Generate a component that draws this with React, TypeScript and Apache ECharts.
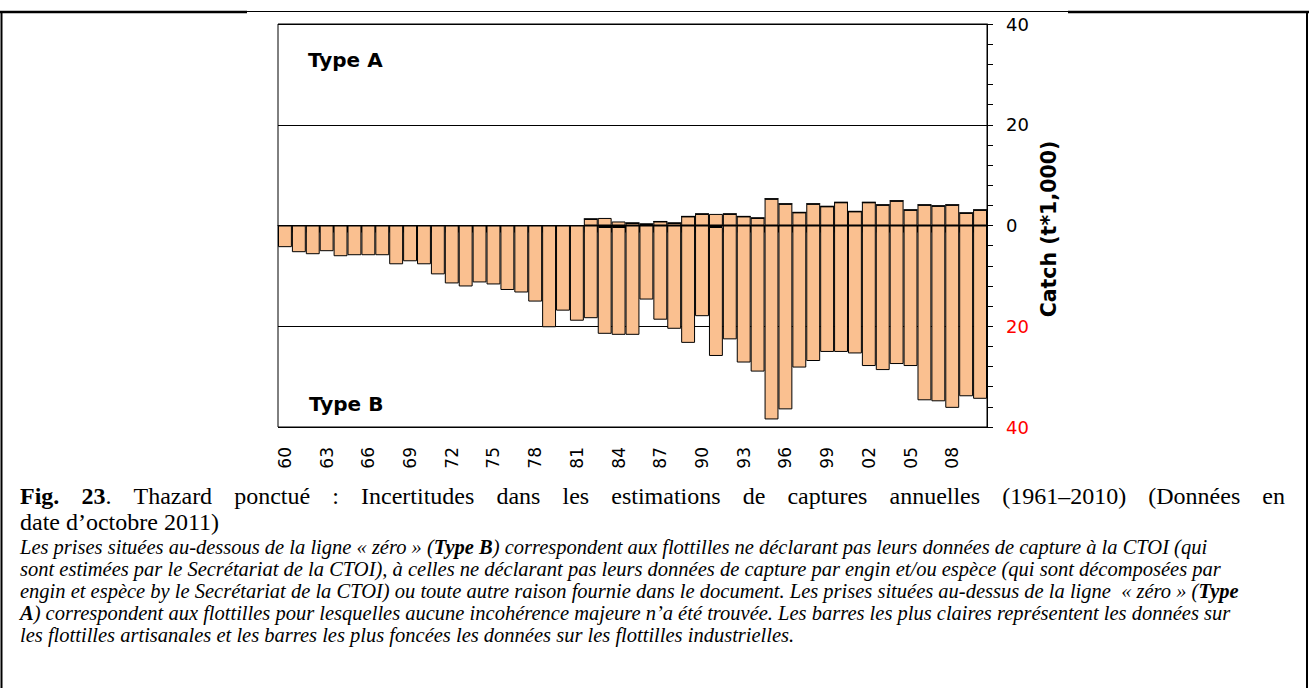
import React, { useEffect, useRef } from "react";
import * as echarts from "echarts";

const years = [
  "60","61","62","63","64","65","66","67","68","69",
  "70","71","72","73","74","75","76","77","78","79",
  "80","81","82","83","84","85","86","87","88","89",
  "90","91","92","93","94","95","96","97","98","99",
  "00","01","02","03","04","05","06","07","08","09","10",
];

// Type A (above zero) catches, t*1,000
const typeA = [
  0,0,0,0,0,0,0,0,0,0,
  0,0,0,0,0,0,0,0,0,0,
  0,0,1.3,1.5,0.8,0.5,0.3,0.8,0.5,1.8,
  2.3,2.3,2.3,1.8,1.5,5.3,4.3,2.6,4.3,3.8,
  4.6,2.8,4.6,4.1,4.9,3.1,4.1,3.9,4.1,2.5,3.1,
];

// Type B (below zero) catches, artisanal fleets, t*1,000
const typeBArtisanal = [
  4.3,5.3,5.7,5.1,6.1,5.9,5.9,5.9,7.7,7.1,
  7.7,9.7,11.5,12.1,11.3,11.7,12.8,13.3,15.1,20.2,
  16.9,18.9,18.4,21.2,21.4,21.7,14.7,18.7,20.5,23.3,
  18.0,25.6,22.6,27.2,29.0,38.5,36.5,28.2,26.9,25.1,
  25.1,25.4,27.9,28.7,27.5,27.9,34.7,34.9,36.2,33.9,34.4,
];

// Type B (below zero) catches, industrial fleets, t*1,000
const typeBIndustrial = [
  0,0,0,0,0,0,0,0,0,0,
  0,0,0,0,0,0,0,0,0,0,
  0,0,0,0.3,0.3,0,0,0,0,0,
  0,0.3,0,0,0,0,0,0,0,0,
  0,0,0,0,0,0,0,0,0,0,0,
];

const yTicks = [-40, -20, 0, 20, 40];

// caption title, first (justified) line as words; "*" marks bold parts
const titleWords = [
  ["*Fig."], ["*23", "."], ["Thazard"], ["ponctué"], [":"], ["Incertitudes"], ["dans"], ["les"],
  ["estimations"], ["de"], ["captures"], ["annuelles"], ["(1961–2010)"], ["(Données"], ["en"],
];
const titleLine2 = "date d’octobre 2011)";

const noteLines = [
  "{i|Les prises situées au-dessous de la ligne « zéro » (}{b|Type B}{i|) correspondent aux flottilles ne déclarant pas leurs données de capture à la CTOI (qui}",
  "{i|sont estimées par le Secrétariat de la CTOI), à celles ne déclarant pas leurs données de capture par engin et/ou espèce (qui sont décomposées par}",
  "{i|engin et espèce by le Secrétariat de la CTOI) ou toute autre raison fournie dans le document. Les prises situées au-dessus de la ligne  « zéro » (}{b|Type}",
  "{b|A}{i|) correspondent aux flottilles pour lesquelles aucune incohérence majeure n’a été trouvée. Les barres les plus claires représentent les données sur}",
  "{i|les flottilles artisanales et les barres les plus foncées les données sur les flottilles industrielles.}",
];

const serif = '"Liberation Serif", "Times New Roman", serif';
const sans = '"DejaVu Sans", Verdana, sans-serif';

export default function App() {
  const ref = useRef<HTMLDivElement>(null);

  useEffect(() => {
    if (!ref.current) return;
    const chart = echarts.init(ref.current, undefined, { renderer: "svg" });

    // --- justified first caption line ---
    const titleSize = 24;
    const fontR = `${titleSize}px ${serif}`;
    const fontB = `bold ${titleSize}px ${serif}`;
    const canvas = document.createElement("canvas");
    const ctx = canvas.getContext("2d") as CanvasRenderingContext2D;
    const measure = (font: string, t: string) => {
      ctx.font = font;
      return ctx.measureText(t).width;
    };
    const tokens = titleWords.map((parts) =>
      parts.map((p) => (p.startsWith("*") ? { t: p.slice(1), b: true } : { t: p, b: false }))
    );
    const widths = tokens.map((parts) =>
      parts.reduce((s, p) => s + measure(p.b ? fontB : fontR, p.t), 0)
    );
    const lineLeft = 20;
    const lineRight = 1285;
    const total = widths.reduce((a, b) => a + b, 0);
    const gap = Math.max(6, (lineRight - lineLeft - total) / (tokens.length - 1));
    let cx = lineLeft;
    const titleEls: any[] = tokens.map((parts, i) => {
      const el = {
        type: "text",
        x: cx,
        y: 496,
        style: {
          text: parts.map((p) => `{${p.b ? "b" : "r"}|${p.t}}`).join(""),
          rich: {
            b: { fontFamily: serif, fontSize: titleSize, fontWeight: "bold", fill: "#000", lineHeight: 24 },
            r: { fontFamily: serif, fontSize: titleSize, fill: "#000", lineHeight: 24 },
          },
          verticalAlign: "middle",
          fill: "#000",
        },
      };
      cx += widths[i] + gap;
      return el;
    });

    const noteSize = 20.5;
    const it = { fontFamily: serif, fontSize: noteSize, fontStyle: "italic", fill: "#000", lineHeight: 20 };
    const itb = { fontFamily: serif, fontSize: noteSize, fontStyle: "italic", fontWeight: "bold", fill: "#000", lineHeight: 20 };
    const noteY = [547, 569, 591, 613, 635];
    const noteEls = noteLines.map((text, i) => ({
      type: "text",
      x: 20,
      y: noteY[i],
      style: { text, rich: { i: it, b: itb }, verticalAlign: "middle", fill: "#000" },
    }));

    chart.setOption({
      animation: false,
      backgroundColor: "#fff",
      grid: {
        left: 278,
        top: 24,
        width: 709,
        height: 403,
        show: true,
        borderColor: "#000",
        borderWidth: 1,
      },
      xAxis: {
        type: "category",
        data: years,
        boundaryGap: true,
        axisLine: { show: true, lineStyle: { color: "#000", width: 1 } },
        axisTick: { show: true, interval: 0, length: 7, lineStyle: { color: "#000" } },
        axisLabel: {
          interval: 2,
          rotate: 90,
          margin: 20,
          fontSize: 17,
          fontFamily: sans,
          color: "#000",
        },
        splitLine: { show: false },
      },
      yAxis: {
        type: "value",
        position: "right",
        min: yTicks[0],
        max: yTicks[yTicks.length - 1],
        interval: 20,
        axisLine: { show: true, lineStyle: { color: "#000", width: 1 } },
        axisTick: { show: true, length: 6, lineStyle: { color: "#000" } },
        minorTick: { show: true, splitNumber: 5, length: 6, lineStyle: { color: "#000" } },
        axisLabel: {
          margin: 19,
          fontSize: 18,
          fontFamily: sans,
          formatter: (v: number) => String(Math.abs(Number(v))),
          color: (v: any) => (Number(v) < 0 ? "#FF0000" : "#000000"),
        },
        splitLine: { show: true, lineStyle: { color: "#000", width: 1 } },
      },
      series: [
        {
          name: "Type A",
          type: "bar",
          stack: "catch",
          data: typeA,
          barCategoryGap: "0%",
          itemStyle: { color: "#FAC090", borderColor: "#000", borderWidth: 1 },
        },
        {
          name: "Type B industrial",
          type: "bar",
          stack: "catch",
          data: typeBIndustrial.map((v) => -v),
          barCategoryGap: "0%",
          itemStyle: { color: "#C0504D", borderColor: "#000", borderWidth: 1 },
        },
        {
          name: "Type B artisanal",
          type: "bar",
          stack: "catch",
          data: typeBArtisanal.map((v) => -v),
          barCategoryGap: "0%",
          itemStyle: { color: "#FAC090", borderColor: "#000", borderWidth: 1 },
        },
      ],
      graphic: [
        // page frame
        { type: "line", shape: { x1: 0, y1: 12, x2: 247, y2: 12 }, style: { stroke: "#000", lineWidth: 2.5 } },
        { type: "line", shape: { x1: 247, y1: 11.5, x2: 1068, y2: 11.5 }, style: { stroke: "#000", lineWidth: 1.2 } },
        { type: "line", shape: { x1: 1068, y1: 12, x2: 1309, y2: 12 }, style: { stroke: "#000", lineWidth: 2.5 } },
        { type: "line", shape: { x1: 1.5, y1: 11, x2: 1.5, y2: 688 }, style: { stroke: "#000", lineWidth: 2 } },
        { type: "line", shape: { x1: 1307, y1: 11, x2: 1307, y2: 688 }, style: { stroke: "#000", lineWidth: 2 } },
        // chart annotations
        {
          type: "text",
          x: 308,
          y: 60,
          style: { text: "Type A", font: `bold 20px ${sans}`, fill: "#000", verticalAlign: "middle" },
        },
        {
          type: "text",
          x: 309,
          y: 404,
          style: { text: "Type B", font: `bold 20px ${sans}`, fill: "#000", verticalAlign: "middle" },
        },
        {
          type: "text",
          x: 1049,
          y: 229,
          rotation: Math.PI / 2,
          style: {
            text: "Catch (t*1,000)",
            font: `bold 20.5px ${sans}`,
            fill: "#000",
            align: "center",
            verticalAlign: "middle",
          },
        },
        // caption
        ...titleEls,
        {
          type: "text",
          x: 20,
          y: 522,
          style: {
            text: "{r|" + titleLine2 + "}",
            rich: { r: { fontFamily: serif, fontSize: titleSize, fill: "#000", lineHeight: 22 } },
            fill: "#000",
            verticalAlign: "middle",
          },
        },
        ...noteEls,
      ],
    });

    return () => chart.dispose();
  }, []);

  return (
    <div
      ref={ref}
      style={{ position: "fixed", left: 0, top: 0, width: 1309, height: 688, background: "#fff" }}
    />
  );
}
